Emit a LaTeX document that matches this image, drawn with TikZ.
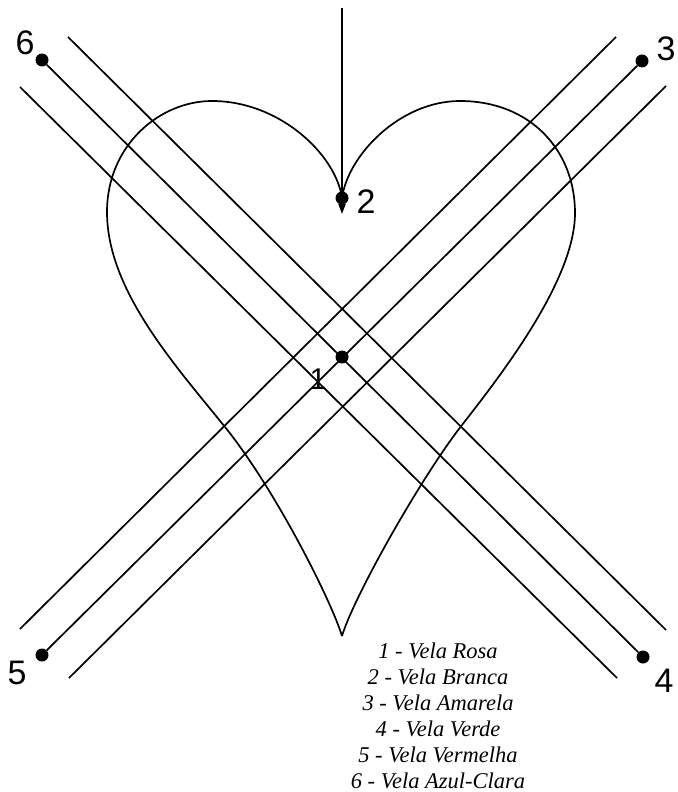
\documentclass[tikz,border=0pt]{standalone}
\usepackage{fontspec}
\setmainfont{Liberation Serif}
\newfontfamily\labelfont{Liberation Sans}
\usetikzlibrary{arrows.meta}
\tikzset{
  ln/.style={line width=1.7pt, black},
  dotnode/.style={circle, fill=black, inner sep=0pt, minimum size=13pt},
  numlabel/.style={font=\labelfont\fontsize{34}{34}\selectfont, inner sep=0pt},
  legend/.style={font=\itshape\fontsize{22.5}{22.5}\selectfont, inner sep=0pt, anchor=center}
}
\begin{document}
\begin{tikzpicture}[x=1pt, y=-1pt]
\useasboundingbox (0,0) rectangle (677,792);
% dots
\node[dotnode] (d1) at (342,357) {};
\node[dotnode] (d2) at (342,198) {};
\node[dotnode] (d3) at (642,61) {};
\node[dotnode] (d4) at (643,657) {};
\node[dotnode] (d5) at (42,655) {};
\node[dotnode] (d6) at (42,60) {};
% parallel line ends
\coordinate (a1) at (68,37);   \coordinate (a2) at (666,630);
\coordinate (b1) at (20,87);   \coordinate (b2) at (617,678);
\coordinate (c1) at (20,629);  \coordinate (c2) at (616,37);
\coordinate (e1) at (69,678);  \coordinate (e2) at (666,86);
\coordinate (top) at (342,8);
\coordinate (tip) at (342,214);
\coordinate (cusp) at (342,198);
\coordinate (htip) at (342,636);
% heart
\draw[ln] (cusp) .. controls (336,155) and (280,101) .. (212,101)
  .. controls (160,101) and (107,145) .. (107,212)
  .. controls (107,290) and (175,365) .. (225,427)
  .. controls (275,489) and (331,600) .. (htip);
\draw[ln] (cusp) .. controls (348,155) and (400,101) .. (460,101)
  .. controls (530,101) and (575,150) .. (575,213)
  .. controls (575,280) and (501,375) .. (462,425)
  .. controls (422,476) and (354,596) .. (htip);
% lines
\draw[ln] (d6) -- (d4);
\draw[ln] (d5) -- (d3);
\draw[ln] (a1) -- (a2);
\draw[ln] (b1) -- (b2);
\draw[ln] (c1) -- (c2);
\draw[ln] (e1) -- (e2);
% arrow
\draw[ln, -{Triangle[length=10pt,width=7pt]}] (top) -- (tip);
% labels
\node[numlabel] (l6) at (25,43) {6};
\node[numlabel] (l3) at (666,49) {3};
\node[numlabel] (l2) at (366,202) {2};
\node[numlabel] (l5) at (17,673) {5};
\node[numlabel] (l4) at (664,681) {4};
\node[font=\labelfont\fontsize{30}{30}\selectfont, inner sep=0pt] (l1) at (318,379) {1};
% legend
\node[legend] (t1) at (438,651) {1 - Vela Rosa};
\node[legend] (t2) at (438,677) {2 - Vela Branca};
\node[legend] (t3) at (438,703) {3 - Vela Amarela};
\node[legend] (t4) at (438,729) {4 - Vela Verde};
\node[legend] (t5) at (438,755) {5 - Vela Vermelha};
\node[legend] (t6) at (438,781) {6 - Vela Azul-Clara};
\end{tikzpicture}
\end{document}
